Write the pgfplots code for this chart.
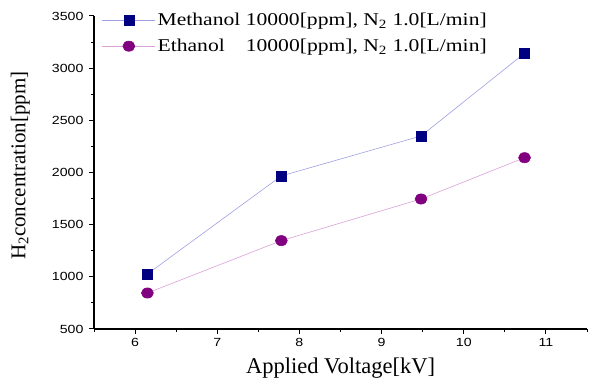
\documentclass[border=0pt]{standalone}
\usepackage{pgfplots}
\pgfplotsset{compat=1.18}
\usepackage{fontspec}
\setmainfont{Liberation Serif}
\newfontfamily\arialfont{Liberation Sans}
\definecolor{mnavy}{RGB}{0,0,128}
\definecolor{mline}{RGB}{160,160,228}
\definecolor{epurp}{RGB}{128,0,128}
\definecolor{eline}{RGB}{218,160,218}
\newcommand{\wide}[1]{\scalebox{1.2}[1]{#1}}
\begin{document}
\begin{tikzpicture}
\begin{axis}[
  name=ax,
  scale only axis,
  width=493pt, height=313pt,
  xmin=5.5, xmax=11.5, ymin=500, ymax=3500,
  xtick={6,7,8,9,10,11},
  minor xtick={5.5,6.5,7.5,8.5,9.5,10.5,11.5},
  ytick={500,1000,1500,2000,2500,3000,3500},
  minor ytick={750,1250,1750,2250,2750,3250},
  axis x line*=bottom, axis y line*=left,
  axis line style={-, line width=1.2pt},
  tick style={black, line width=1pt},
  tick align=outside,
  major tick length=5pt, minor tick length=3pt,
  /pgf/number format/assume math mode=true,
  /pgf/number format/set thousands separator={},
  ticklabel style={font=\arialfont\fontsize{11.8}{14}\selectfont},
  xticklabel={\wide{\pgfmathprintnumber{\tick}}},
  yticklabel={\wide{\pgfmathprintnumber{\tick}}},
  xticklabel style={yshift=-1pt},
  yticklabel style={xshift=-2pt},
  xlabel={Applied Voltage[kV]},
  ylabel={H\textsubscript{2}concentration[ppm]},
  xlabel style={font=\fontsize{22.5}{24}\selectfont, at={(axis description cs:0.5,0)}, anchor=north, yshift=-25pt},
  ylabel style={font=\fontsize{21}{24}\selectfont, at={(axis description cs:-0.176,0.522)}, anchor=north},
  legend style={draw=none, fill=none, at={(axis description cs:0.016,1.016)}, anchor=north west,
    font=\fontsize{18}{20}\selectfont, row sep=8pt, inner sep=0pt},
  legend cell align=left,
  legend image code/.code={\draw[mark repeat=2,mark phase=2] plot coordinates {(0cm,0cm)(0.93cm,0cm)(1.86cm,0cm)};},
  clip=false,
]
\addplot[color=mline, line width=0.6pt, mark=square*, mark size=5pt,
  mark options={draw=mnavy, fill=mnavy}]
  coordinates {(6.15,1027) (7.78,1967) (9.48,2350) (10.74,3143)};
\addlegendentry{\wide{Methanol 10000[ppm], N\textsubscript{2} 1.0[L/min]}}
\addplot[color=eline, line width=0.6pt, mark=*, mark size=6pt,
  mark options={draw=epurp, fill=epurp, yscale=0.85}]
  coordinates {(6.15,845) (7.78,1347) (9.48,1746) (10.74,2142)};
\addlegendentry{\wide{\rlap{Ethanol}\hphantom{Methanol} 10000[ppm], N\textsubscript{2} 1.0[L/min]}}
\end{axis}
\pgfresetboundingbox
\path ([xshift=-94pt,yshift=-49pt]ax.south west) rectangle ([xshift=3pt,yshift=16pt]ax.north east);
\end{tikzpicture}
\end{document}
